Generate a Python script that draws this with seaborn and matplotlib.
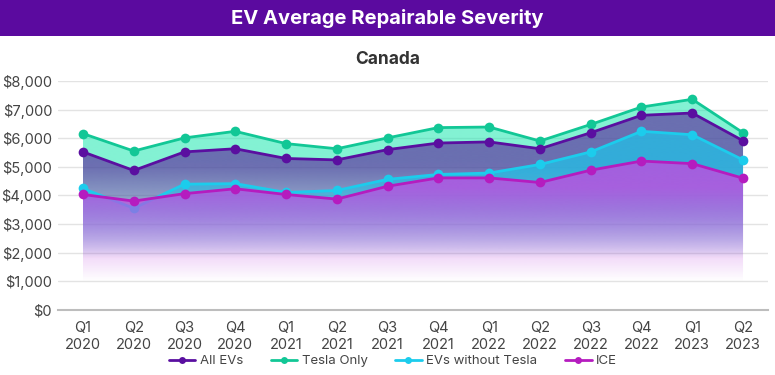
import matplotlib
matplotlib.use('Agg')
import matplotlib.pyplot as plt
import matplotlib.patches as mpatches
from matplotlib.lines import Line2D
import numpy as np
import pandas as pd
import seaborn as sns

# Quarter labels and values
quarters = ['Q1\n2020', 'Q2\n2020', 'Q3\n2020', 'Q4\n2020',
            'Q1\n2021', 'Q2\n2021', 'Q3\n2021', 'Q4\n2021',
            'Q1\n2022', 'Q2\n2022', 'Q3\n2022', 'Q4\n2022',
            'Q1\n2023', 'Q2\n2023']
all_evs = [5520, 4870, 5520, 5630, 5290, 5240, 5600, 5830, 5870, 5630, 6190, 6800, 6880, 5910]
tesla_only = [6160, 5550, 6010, 6240, 5810, 5630, 6010, 6370, 6390, 5900, 6480, 7090, 7360, 6190]
evs_no_tesla = [4240, 3550, 4390, 4410, 4100, 4170, 4560, 4730, 4780, 5080, 5520, 6240, 6120, 5240]
ice = [4030, 3800, 4060, 4230, 4030, 3870, 4320, 4610, 4610, 4450, 4880, 5200, 5110, 4600]

series_names = ['All EVs', 'Tesla Only', 'EVs without Tesla', 'ICE']
line_colors = {'All EVs': '#5a0fa0', 'Tesla Only': '#12c796',
               'EVs without Tesla': '#1cccec', 'ICE': '#b51cbf'}
# fill colour, top opacity and fade range for the gradient areas
fill_styles = {'Tesla Only': ('#1ee8b0', 0.55, 1800, 5200),
               'All EVs': ('#5a189a', 0.6, 1800, 5000),
               'EVs without Tesla': ('#1cc8eb', 0.7, 1800, 4800),
               'ICE': ('#c04ce0', 0.8, 1000, 4300)}

values = {'All EVs': all_evs, 'Tesla Only': tesla_only,
          'EVs without Tesla': evs_no_tesla, 'ICE': ice}

df = pd.DataFrame([
    {'pos': i, 'series': name, 'value': v}
    for name in series_names for i, v in enumerate(values[name])
])

sns.set_theme(style='white')
plt.rcParams['font.family'] = ['Inter', 'DejaVu Sans']

fig = plt.figure(figsize=(7.75, 3.75), dpi=100)
ax = fig.add_axes([0.0743, 0.1741, 0.9172, 0.6099])

xs = np.arange(len(quarters))
ymax = 8000

# each series: gradient area then its line, drawn back to front
grad_y = np.linspace(0, ymax, 400)
for k, name in enumerate(['Tesla Only', 'All EVs', 'EVs without Tesla', 'ICE']):
    color, a_top, y0, y1 = fill_styles[name]
    ramp = np.clip((grad_y - y0) / (y1 - y0), 0, 1)
    img = np.zeros((len(grad_y), 1, 4))
    img[:, 0, :3] = matplotlib.colors.to_rgb(color)
    img[:, 0, 3] = a_top * ramp
    poly = ax.fill_between(xs, values[name], 0, facecolor='none', edgecolor='none')
    im = ax.imshow(img, extent=[xs[0], xs[-1], 0, ymax], origin='lower',
                   aspect='auto', interpolation='bilinear', zorder=2 + 2 * k)
    im.set_clip_path(poly.get_paths()[0], transform=ax.transData)
    sns.lineplot(data=df[df['series'] == name], x='pos', y='value',
                 color=line_colors[name], marker='o', markersize=7, markeredgewidth=0,
                 linewidth=2, ax=ax, legend=False, zorder=3 + 2 * k)

ax.set_xlim(-0.5, len(quarters) - 0.5)
ax.set_ylim(0, ymax)
ax.set_xticks(xs)
ax.set_xticklabels(quarters, fontsize=10.5, color='#444444', linespacing=1.3)
ax.set_yticks(range(0, 8001, 1000))
ax.set_yticklabels([f'${v:,}' for v in range(0, 8001, 1000)], fontsize=10.5, color='#444444')
ax.tick_params(axis='both', length=0)
ax.tick_params(axis='x', pad=8)
ax.tick_params(axis='y', pad=4)
ax.set_xlabel('')
ax.set_ylabel('')
ax.grid(axis='y', color='#e3e3e3', linewidth=1)
ax.set_axisbelow(True)
for side in ['top', 'right', 'left']:
    ax.spines[side].set_visible(False)
ax.spines['bottom'].set_color('#bdbdbd')
ax.spines['bottom'].set_linewidth(1.5)

# title banner
fig.patches.append(mpatches.Rectangle((0, 1 - 36 / 375), 1, 36 / 375, transform=fig.transFigure,
                                      facecolor='#5b0a9f', edgecolor='none', zorder=0))
fig.text(0.5, 1 - 18 / 375, 'EV Average Repairable Severity', ha='center', va='center',
         color='white', fontsize=14.5, fontweight='bold')
fig.text(0.5, 1 - 60 / 375, 'Canada', ha='center', va='center',
         color='#333333', fontsize=12.5, fontweight='bold')

handles = [Line2D([0], [0], color=line_colors[n], linewidth=2, marker='o', markersize=5,
                  markeredgewidth=0) for n in series_names]
fig.legend(handles, series_names, loc='center', bbox_to_anchor=(0.507, 1 - 361 / 375),
           ncol=4, frameon=False, fontsize=9.5, handlelength=2.0, handletextpad=0.35,
           columnspacing=2.1, labelcolor='#444444')

fig.savefig('out.png', dpi=100)
